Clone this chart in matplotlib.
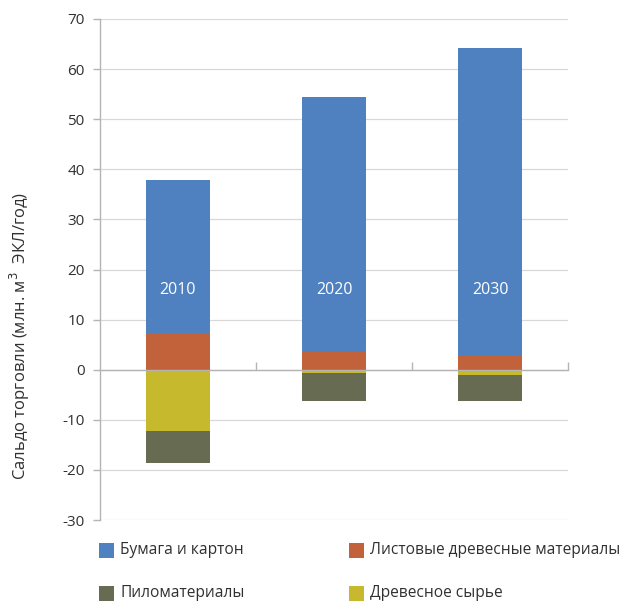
import matplotlib
matplotlib.use("Agg")
import matplotlib.pyplot as plt
from matplotlib.patches import Rectangle
import numpy as np

plt.rcParams['font.family'] = ['Open Sans', 'DejaVu Sans']

years = ["2010", "2020", "2030"]
paper = [30.6, 50.8, 61.4]          # Бумага и картон
panels = [7.3, 3.7, 2.8]            # Листовые древесные материалы
roundwood = [-12.3, -0.6, -1.0]     # Древесное сырье
sawnwood = [-6.3, -5.6, -5.2]       # Пиломатериалы

series_names = ["Бумага и картон", "Листовые древесные материалы",
                "Пиломатериалы", "Древесное сырье"]
colors = {"Бумага и картон": "#4F81C1",
          "Листовые древесные материалы": "#C1623B",
          "Пиломатериалы": "#666B52",
          "Древесное сырье": "#C7B92D"}

yticks = list(range(-30, 71, 10))
text_color = "#303030"
axis_color = "#b4b4b4"

fig = plt.figure(figsize=(6.30, 6.03), dpi=100)
ax = fig.add_axes([0.1587, 0.1376, 0.743, 0.8309])

x = np.arange(len(years))
w = 0.41
panels_a = np.array(panels)
paper_a = np.array(paper)
rw = np.array(roundwood)
sw = np.array(sawnwood)

ax.bar(x, panels_a, w, color=colors["Листовые древесные материалы"], zorder=3)
ax.bar(x, paper_a, w, bottom=panels_a, color=colors["Бумага и картон"], zorder=3)
ax.bar(x, rw, w, color=colors["Древесное сырье"], zorder=3)
ax.bar(x, sw, w, bottom=rw, color=colors["Пиломатериалы"], zorder=3)

for xi, yr in zip(x, years):
    ax.text(xi, 16.0, yr, color="white", ha="center", va="center",
            fontsize=11.5, zorder=4)

ax.set_xlim(-0.5, 2.5)
ax.set_ylim(-30, 70)
ax.set_yticks(yticks)
ax.set_yticklabels([str(t) for t in yticks])
ax.yaxis.grid(True, color="#d8d8d8", linewidth=0.9, zorder=0)
ax.set_axisbelow(True)

ax.spines['top'].set_visible(False)
ax.spines['right'].set_visible(False)
ax.spines['left'].set_color(axis_color)
ax.spines['left'].set_linewidth(1.0)
ax.spines['bottom'].set_position(('data', 0))
ax.spines['bottom'].set_color(axis_color)
ax.spines['bottom'].set_linewidth(1.0)
ax.spines['bottom'].set_zorder(3.5)

ax.set_xticks([0.5, 1.5, 2.5])
ax.set_xticklabels([])
ax.tick_params(axis='x', direction='in', length=6, color=axis_color, width=1.0)
ax.tick_params(axis='y', direction='out', length=5, color=axis_color, width=1.0,
               labelsize=11, labelcolor=text_color, pad=6)

fig.text(0.032, 0.443, "Сальдо торговли (млн. м$^3$  ЭКЛ/год)", rotation=90,
         ha="center", va="center", fontsize=12, color=text_color)

# legend laid out as a 2x2 grid under the axes
W, H = 630, 603
legend_cells = [("Бумага и картон", 99, 550.5),
                ("Листовые древесные материалы", 349, 550.5),
                ("Пиломатериалы", 99, 593),
                ("Древесное сырье", 349, 593)]
sq = 15
for name, px, py in legend_cells:
    fig.add_artist(Rectangle((px / W, 1 - (py + sq / 2) / H), sq / W, sq / H,
                             transform=fig.transFigure,
                             facecolor=colors[name], edgecolor="none"))
    fig.text((px + sq + 6) / W, 1 - py / H, name, ha="left", va="center",
             fontsize=11.2, color=text_color)

fig.savefig("out.png", dpi=100)
